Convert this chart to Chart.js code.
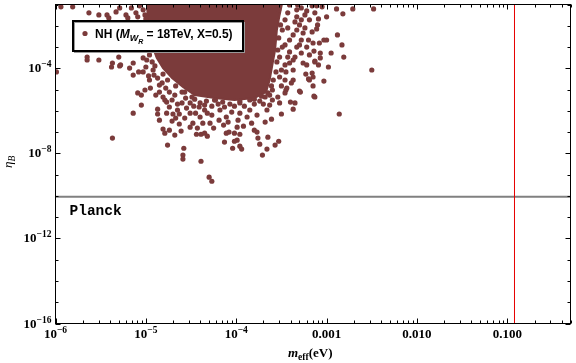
<!DOCTYPE html>
<html>
<head>
<meta charset="utf-8">
<script src="https://cdn.jsdelivr.net/npm/chart.js@4.4.1/dist/chart.umd.min.js"></script>
<style>
  body { margin: 0; background: #fff; }
  #wrap { width: 576px; height: 363px; }
</style>
</head>
<body>
<div id="wrap"><canvas id="chart"></canvas></div>
<script>
// log10 of m_eff (eV) and of eta_B for the loose points
const mEffLog = [
  -5.94,-5.81,-5.63,-5.52,-5.43,-5.41,-5.22,-5.20,-5.11,-5.01,
  -5.65,-5.65,-5.52,-5.30,-5.37,-5.28,-5.14,-5.99,-5.38,-5.29,
  -5.18,-5.14,-5.08,-5.03,-5.00,-4.97,-4.91,-4.92,-5.09,-5.05,
  -5.01,-4.95,-4.89,-5.14,-5.05,-4.87,-4.87,-4.85,-4.81,-4.77,
  -4.74,-4.77,-4.70,-4.67,-4.63,-4.60,-4.55,-4.51,-4.48,-4.45,
  -4.41,-4.35,-4.32,-4.27,-4.23,-4.15,-4.11,-4.18,-4.37,-4.29,
  -4.25,-4.14,-4.81,-4.79,-4.74,-4.68,-4.61,-5.37,-4.76,-4.58,
  -4.59,-4.59,-4.44,-4.39,-4.35,-4.32,-4.39,-4.30,-4.27,-4.11,
  -4.08,-4.02,-3.99,-3.99,-4.04,-4.13,-3.96,-4.02,-3.96,-3.94,
  -3.77,-3.76,-3.74,-3.66,-3.71,-3.65,-3.80,-3.77,-3.68,-3.61,
  -3.66,-3.63,-3.60,-3.53,-3.57,-3.50,-3.37,-3.52,-3.40,-3.35,
  -3.45,-3.50,-3.29,-3.14,-3.15,-3.03,-3.20,-3.15,-3.23,-3.16,
  -3.37,-3.37,-3.26,-3.22,-3.13,-3.09,-2.98,-2.86,-2.50,-2.89,
  -2.82,-2.71,-2.48,-3.00,-3.09,-3.10,-3.11,-2.88,-3.03,-3.00,
  -3.08,-3.15,-2.83,-2.95,-2.81,-3.07,-3.07,-3.14,-3.13,-3.41,
  -3.33,-3.28,-3.22,-3.33,-3.28,-3.30,-3.33,-3.26,-3.37,-3.41,
  -3.28,-3.33,-3.22,-3.41,-3.28,-3.19,-3.37,-3.46,-3.43,-3.49,
  -3.46,-3.43,-3.49,-3.52,-3.52,-3.46,-3.39,-3.44,-3.60,-3.11,
  -3.05,-3.19,-3.13,-3.30,-4.57,-4.46,-4.33,-3.96,-3.85,-3.72,
  -3.65,
  // fringe of the dense cloud
  -5.07,-5.03,-5.09,-5.16,-5.00,-5.29,-5.33,
  -4.96,-4.93,-4.99,-5.03,-4.90,-4.96,-4.87,-4.82,-4.78,-4.74,
  -4.68,-4.85,-4.79,-4.71,-4.65,-4.56,-4.51,-4.47,-4.40,-4.35,
  -4.27,-4.20,-4.13,-4.07,-4.02,-3.91,-3.85,-3.80,-3.74,-4.05,
  -3.96,-3.88,-3.98,-3.83,-3.92,-4.09,-4.19,-4.40,-4.57,-4.65,
  -4.71,-4.51,-4.43,-4.63,-4.85,
  -3.53,-3.51,-3.53,-3.54,-3.55,-3.56,-3.59,-3.61,-3.63,-3.50,
  -3.45,-3.41,-3.35,-3.30,-3.24,-3.19,-3.16,-3.20,-3.46,-3.43,
  -3.35,-3.32,-3.24,-3.13,-3.16,-3.46,-3.54,-3.70,
  -4.81,-4.76,-4.67,-4.60,-4.49,-4.24,-3.96,-3.80,-3.68
];
const etaBLog = [
  -1.11,-1.11,-1.39,-1.49,-1.49,-1.63,-1.49,-1.63,-1.39,-1.49,
  -3.47,-3.61,-3.61,-3.47,-3.75,-3.84,-3.75,-4.17,-3.94,-3.89,
  -3.99,-4.32,-4.17,-4.17,-3.94,-4.36,-4.32,-4.08,-5.16,-5.26,
  -5.02,-4.93,-5.26,-6.11,-5.73,-5.92,-6.15,-4.79,-5.35,-5.59,
  -5.82,-6.11,-6.15,-6.34,-6.15,-5.63,-5.87,-6.11,-6.58,-6.11,
  -5.82,-5.96,-6.11,-6.20,-5.49,-5.59,-6.29,-5.96,-6.58,-6.58,
  -6.81,-6.67,-6.86,-7.05,-6.91,-7.14,-6.95,-7.28,-7.61,-7.76,
  -8.08,-8.27,-7.10,-7.10,-7.05,-7.19,-8.37,-9.12,-9.31,-7.05,
  -7.00,-7.05,-6.77,-7.38,-7.76,-7.47,-7.10,-7.43,-7.66,-7.80,
  -7.00,-7.28,-7.57,-7.80,-8.08,-7.24,-6.91,-6.20,-6.53,-6.39,
  -5.96,-5.73,-5.49,-7.43,-7.61,-6.15,-5.92,-5.63,-5.59,-5.63,
  -5.02,-4.83,-5.12,-5.31,-4.83,-4.60,-4.50,-4.41,-4.27,-4.22,
  -4.08,-4.55,-3.75,-3.84,-3.70,-3.84,-3.94,-6.15,-4.08,-1.21,
  -1.44,-1.21,-1.21,-1.58,-1.68,-1.96,-2.15,-2.43,-2.67,-2.67,
  -2.81,-2.81,-2.90,-3.28,-3.47,-3.28,-3.51,-3.19,-3.66,-1.02,
  -1.25,-1.16,-1.30,-1.58,-1.72,-1.96,-2.20,-2.34,-2.43,-2.67,
  -2.67,-3.00,-3.00,-3.23,-3.28,-3.37,-3.61,-3.84,-3.47,-2.20,
  -1.72,-1.39,-3.00,-3.47,-4.41,-4.55,-4.69,-4.93,-5.02,-1.06,
  -1.11,-4.55,-5.35,-5.07,-5.12,-5.45,-5.54,-5.63,-5.49,-5.31,
  -5.16,
  // fringe of the dense cloud
  -1.06,-1.25,-1.58,-1.16,-1.68,-1.16,-1.35,
  -3.37,-3.70,-3.61,-3.51,-3.89,-4.55,-4.46,-4.69,-4.93,-5.12,
  -5.26,-5.12,-5.49,-5.49,-5.68,-5.40,-5.63,-5.78,-5.63,-5.73,
  -5.78,-5.68,-5.82,-5.68,-5.78,-5.78,-5.96,-5.68,-5.54,-6.06,
  -6.11,-6.29,-6.44,-6.58,-6.72,-6.53,-6.44,-6.29,-6.34,-5.96,
  -6.48,-6.77,-6.81,-6.62,-6.44,
  -1.25,-1.96,-2.57,-3.14,-3.70,-4.17,-4.55,-4.83,-5.26,-4.08,
  -4.17,-3.75,-3.47,-2.90,-2.10,-1.72,-2.29,-2.67,-2.90,-2.10,
  -1.82,-1.02,-1.49,-1.39,-1.06,-5.16,-5.35,-5.68,
  -4.27,-4.55,-4.83,-5.12,-5.35,-5.49,-5.54,-5.45,-5.35
];

// outline of the saturated part of the cloud (log10 values)
const coreMLog   = [-4.99,-3.49,-3.52,-3.55,-3.57,-3.60,-3.63,-3.67,-3.80,-4.02,-4.24,-4.46,-4.59,-4.71,-4.81,-4.88,-4.92,-4.96,-4.98];
const coreEtaLog = [-0.90,-0.90,-1.49,-2.20,-3.14,-3.84,-4.55,-5.12,-5.40,-5.49,-5.40,-5.26,-4.88,-4.46,-3.99,-3.51,-3.04,-2.20,-1.49];

const xMin = 1e-6, xMax = 0.5;
const yMin = 1e-16, yMax = 0.1;
const planckEta = 9.2e-11;
const mEffLimit = 0.12;

const xTickValues = [1e-6, 1e-5, 1e-4, 1e-3, 1e-2, 1e-1];
const xTickLabels = [['10', '\u22126'], ['10', '\u22125'], ['10', '\u22124'], ['0.001'], ['0.010'], ['0.100']];
const yTickValues = [1e-4, 1e-8, 1e-12, 1e-16];
const yTickLabels = [['10', '\u22124'], ['10', '\u22128'], ['10', '\u221212'], ['10', '\u221216']];

const pointColor = '#7b3b3b';
const serif = '"Liberation Serif", "Times New Roman", serif';
const sans = '"Liberation Sans", Arial, sans-serif';

const points = mEffLog.map((m, i) => ({ x: Math.pow(10, m), y: Math.pow(10, etaBLog[i]) }));
const core = coreMLog.map((m, i) => ({ x: Math.pow(10, m), y: Math.pow(10, coreEtaLog[i]) }));
core.push(core[0]);

function powLabel(ctx, parts, x, y, align) {
    const big = 'bold 13px ' + serif;
    const small = 'bold 9.5px ' + serif;
    ctx.font = big;
    const w1 = ctx.measureText(parts[0]).width;
    ctx.font = small;
    const w2 = parts[1] ? ctx.measureText(parts[1]).width : 0;
    const total = w1 + w2;
    let x0 = x;
    if (align === 'right') x0 = x - total;
    if (align === 'center') x0 = x - total / 2;
    ctx.textAlign = 'left';
    ctx.textBaseline = 'alphabetic';
    ctx.font = big;
    ctx.fillText(parts[0], x0, y);
    if (parts[1]) {
        ctx.font = small;
        ctx.fillText(parts[1], x0 + w1, y - 5);
    }
}

const framePlugin = {
    id: 'frame',
    afterDatasetsDraw(chart) {
        const ctx = chart.ctx;
        const a = chart.chartArea;
        const xs = chart.scales.x, ys = chart.scales.y;
        ctx.save();
        ctx.strokeStyle = '#000';
        ctx.fillStyle = '#000';
        ctx.lineWidth = 1;

        // ticks, pointing inward on all four sides
        ctx.beginPath();
        for (let d = -6; d <= -1; d++) {
            for (let k = 1; k <= 9; k++) {
                const v = k * Math.pow(10, d);
                if (v > xMax) break;
                const px = Math.round(xs.getPixelForValue(v)) + 0.5;
                const len = k === 1 ? 5 : 3;
                ctx.moveTo(px, a.bottom); ctx.lineTo(px, a.bottom - len);
                ctx.moveTo(px, a.top); ctx.lineTo(px, a.top + len);
            }
        }
        for (let e = -16; e <= -1; e++) {
            const py = Math.round(ys.getPixelForValue(Math.pow(10, e))) + 0.5;
            const len = e % 4 === 0 ? 5 : 3;
            ctx.moveTo(a.left, py); ctx.lineTo(a.left + len, py);
            ctx.moveTo(a.right, py); ctx.lineTo(a.right - len, py);
        }
        ctx.stroke();
        ctx.strokeRect(a.left, a.top, a.right - a.left, a.bottom - a.top);

        // tick labels
        xTickValues.forEach((v, i) => {
            powLabel(ctx, xTickLabels[i], xs.getPixelForValue(v), a.bottom + 14, 'center');
        });
        yTickValues.forEach((v, i) => {
            powLabel(ctx, yTickLabels[i], a.left - 4, ys.getPixelForValue(v) + 4, 'right');
        });

        // x axis title: m_eff(eV)
        ctx.textAlign = 'left';
        let tx = 288, ty = 357;
        ctx.font = 'italic bold 13px ' + serif;
        ctx.fillText('m', tx, ty);
        tx += ctx.measureText('m').width;
        ctx.font = 'bold 9.5px ' + serif;
        ctx.fillText('eff', tx, ty + 3);
        tx += ctx.measureText('eff').width;
        ctx.font = 'bold 13px ' + serif;
        ctx.fillText('(eV)', tx, ty);

        // y axis title: eta_B
        ctx.save();
        ctx.translate(12, 168);
        ctx.rotate(-Math.PI / 2);
        ctx.font = 'italic 13px ' + serif;
        ctx.fillText('\u03b7', 0, 0);
        const we = ctx.measureText('\u03b7').width;
        ctx.font = 'italic 9.5px ' + serif;
        ctx.fillText('B', we, 3);
        ctx.restore();

        // Planck label
        ctx.font = 'bold 14.5px "Liberation Mono", "Courier New", monospace';
        ctx.fillText('Planck', a.left + 14, 215);

        // legend box
        const bx = 73, by = 21, bw = 170, bh = 30;
        ctx.fillStyle = '#fff';
        ctx.fillRect(bx, by, bw, bh);
        ctx.strokeStyle = '#999';
        ctx.lineWidth = 1;
        ctx.strokeRect(bx + 1.5, by + 1.5, bw, bh);
        ctx.strokeStyle = '#000';
        ctx.lineWidth = 2;
        ctx.strokeRect(bx, by, bw, bh);

        ctx.fillStyle = pointColor;
        ctx.beginPath();
        ctx.arc(85, 33.5, 2.6, 0, Math.PI * 2);
        ctx.fill();

        ctx.fillStyle = '#000';
        let lx = 95;
        const ly = 38;
        const seg = (txt, font, dy) => {
            ctx.font = font;
            ctx.fillText(txt, lx, ly + dy);
            lx += ctx.measureText(txt).width;
        };
        seg('NH (', 'bold 12px ' + sans, 0);
        seg('M', 'italic bold 12px ' + sans, 0);
        seg('W', 'italic bold 9px ' + sans, 3);
        seg('R', 'italic bold 7px ' + sans, 5.5);
        seg(' = 18TeV, X=0.5)', 'bold 12px ' + sans, 0);

        ctx.restore();
    }
};

new Chart(document.getElementById('chart').getContext('2d'), {
    type: 'scatter',
    data: {
        datasets: [
            {
                label: 'NH',
                data: points,
                backgroundColor: pointColor,
                borderWidth: 0,
                pointRadius: 2.6,
                clip: 0,
                order: 1
            },
            {
                type: 'line',
                label: 'core',
                data: core,
                showLine: true,
                fill: 'shape',
                backgroundColor: pointColor,
                borderColor: pointColor,
                borderWidth: 2,
                pointRadius: 0,
                tension: 0,
                clip: 0,
                order: 2
            },
            {
                type: 'line',
                label: 'Planck',
                data: [{ x: xMin, y: planckEta }, { x: xMax, y: planckEta }],
                borderColor: '#808080',
                borderWidth: 2,
                pointRadius: 0,
                fill: false,
                order: 3
            },
            {
                type: 'line',
                label: 'bound',
                data: [{ x: mEffLimit, y: yMin }, { x: mEffLimit, y: yMax }],
                borderColor: 'rgb(230,0,0)',
                borderWidth: 1,
                pointRadius: 0,
                fill: false,
                order: 0
            }
        ]
    },
    options: {
        responsive: true,
        maintainAspectRatio: false,
        animation: false,
        layout: {
            padding: { left: 55.5, right: 5.5, top: 4.5, bottom: 39.5 }
        },
        scales: {
            x: { type: 'logarithmic', min: xMin, max: xMax, display: false },
            y: { type: 'logarithmic', min: yMin, max: yMax, display: false }
        },
        plugins: {
            legend: { display: false },
            tooltip: { enabled: false }
        }
    },
    plugins: [framePlugin]
});
</script>
</body>
</html>
